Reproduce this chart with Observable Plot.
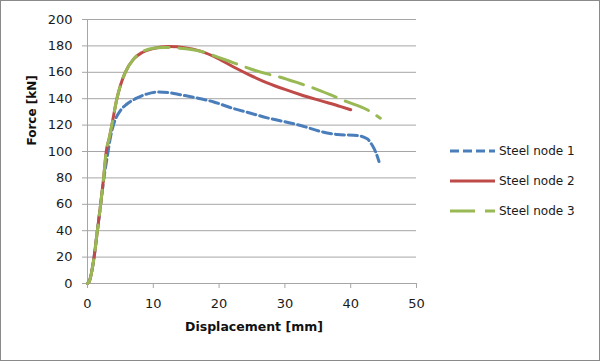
<!DOCTYPE html>
<html>
<head>
<meta charset="utf-8">
<script src="https://cdn.jsdelivr.net/npm/d3@7"></script>
<script src="https://cdn.jsdelivr.net/npm/@observablehq/plot@0.6"></script>
<style>
  html, body { margin: 0; padding: 0; background: #fff; }
  #wrap { position: relative; width: 600px; height: 361px; overflow: hidden; }
  #border { position: absolute; left: 0; top: 0; width: 600px; height: 361px; box-sizing: border-box; border: 1.5px solid #8a8a8a; pointer-events: none; }
  #legend { position: absolute; left: 450px; top: 136px; font-family: "DejaVu Sans", sans-serif; font-size: 12px; color: #1a1a1a; }
  .row { display: flex; align-items: center; height: 30px; }
  .row svg { display: block; margin-right: 4px; }
</style>
</head>
<body>
<div id="wrap"></div>
<script>
// ---- data ----
const seriesNames = ["Steel node 1", "Steel node 2", "Steel node 3"];
const seriesColors = ["#4A7EBB", "#BE4B48", "#98B954"];
const seriesDash = ["9,4", null, "25,10"];

const disp1 = [0, 0.3, 0.6, 1.0, 1.5, 2.0, 2.5, 3.0, 3.5, 4.0, 5.0, 6.0, 7.3, 9.0, 10.6, 12.5, 14.1, 17.2, 19.2, 22.2, 24.8, 27.3, 30.0, 32.4, 35.4, 38.0, 41.0, 42.5, 43.3, 43.8, 44.3];
const force1 = [0, 2, 8, 20, 40, 60, 80, 96, 111, 121, 131, 136, 140, 143.5, 145, 144.5, 143, 140, 137.5, 132.5, 129, 125.5, 122.5, 119.7, 115.2, 112.9, 112.1, 109.6, 104.5, 99.5, 92.4];

const disp2 = [0, 0.3, 0.6, 1.0, 1.5, 2.0, 2.45, 2.85, 3.3, 3.7, 4.47, 5.0, 5.74, 7.0, 8.3, 10.0, 12.3, 15.0, 17.15, 19.8, 22.2, 24.5, 27.3, 30.0, 32.4, 35.4, 38.5, 40.0];
const force2 = [0, 2, 8, 20, 40, 60, 80, 100, 110, 120, 140, 150, 160, 170, 175, 178, 179.5, 178.5, 176, 170.5, 164, 158.3, 152, 147, 143, 138.5, 134.0, 131.6];

const disp3 = [0, 0.3, 0.6, 1.0, 1.5, 2.0, 2.45, 2.85, 3.3, 3.7, 4.47, 5.0, 5.74, 7.0, 8.3, 10.0, 11.5, 14.0, 17.15, 19.8, 22.2, 24.8, 27.3, 29.3, 32.4, 34.2, 37.4, 39.2, 42.5, 44.5];
const force3 = [0, 2, 8, 20, 40, 60, 80, 100, 110, 120, 140, 150, 160, 170, 175.5, 178.3, 178.8, 178.3, 176, 171.5, 167.2, 162.5, 158.8, 156.3, 151.3, 148.3, 141.9, 138.1, 131.6, 125.2];

const xTicks = [0, 10, 20, 30, 40, 50];
const yTicks = [0, 20, 40, 60, 80, 100, 120, 140, 160, 180, 200];
const xTitle = "Displacement [mm]";
const yTitle = "Force [kN]";

// ---- build tables ----
const allDisp = [disp1, disp2, disp3];
const allForce = [force1, force2, force3];
const tables = allDisp.map((ds, i) => ds.map((d, j) => ({series: seriesNames[i], d, F: allForce[i][j]})));

const gridColor = "#a6a6a6";

const lineMarks = tables.map((t, i) => Plot.line(t, {
  x: "d", y: "F",
  stroke: seriesColors[i],
  strokeWidth: 3,
  strokeDasharray: seriesDash[i] || undefined,
  curve: "monotone-x"
}));

const chart = Plot.plot({
  width: 600,
  height: 361,
  marginLeft: 87,
  marginRight: 184,
  marginTop: 19,
  marginBottom: 78,
  style: {fontFamily: "DejaVu Sans, sans-serif", fontSize: "13px", background: "white", color: "#1a1a1a"},
  x: {domain: [0, 50]},
  y: {domain: [0, 200]},
  marks: [
    Plot.gridY(yTicks, {stroke: gridColor, strokeOpacity: 1}),
    Plot.ruleX([0], {stroke: gridColor}),
    Plot.ruleY([0], {stroke: gridColor}),
    Plot.axisX(xTicks, {tickSize: 5, tickPadding: 10, stroke: gridColor, fill: "#1a1a1a", label: null}),
    Plot.axisY(yTicks, {tickSize: 5, tickPadding: 10, stroke: gridColor, fill: "#1a1a1a", label: null}),
    ...lineMarks,
    Plot.text([xTitle], {frameAnchor: "bottom", dy: 47, dx: 2, text: d => d, fontWeight: "bold", fontSize: 12.5, fill: "#111"}),
    Plot.text([yTitle], {frameAnchor: "left", dx: -55, dy: -6, rotate: -90, text: d => d, fontWeight: "bold", fontSize: 12, fill: "#111"})
  ]
});

const wrap = document.getElementById("wrap");
wrap.appendChild(chart);

// legend
const legend = document.createElement("div");
legend.id = "legend";
seriesNames.forEach((name, i) => {
  const row = document.createElement("div");
  row.className = "row";
  const svg = d3.create("svg").attr("width", 45).attr("height", 6);
  svg.append("line")
    .attr("x1", 0).attr("x2", 45).attr("y1", 3).attr("y2", 3)
    .attr("stroke", seriesColors[i]).attr("stroke-width", 3)
    .attr("stroke-dasharray", seriesDash[i]);
  row.appendChild(svg.node());
  const span = document.createElement("span");
  span.textContent = name;
  row.appendChild(span);
  legend.appendChild(row);
});
wrap.appendChild(legend);

const border = document.createElement("div");
border.id = "border";
wrap.appendChild(border);
</script>
</body>
</html>
